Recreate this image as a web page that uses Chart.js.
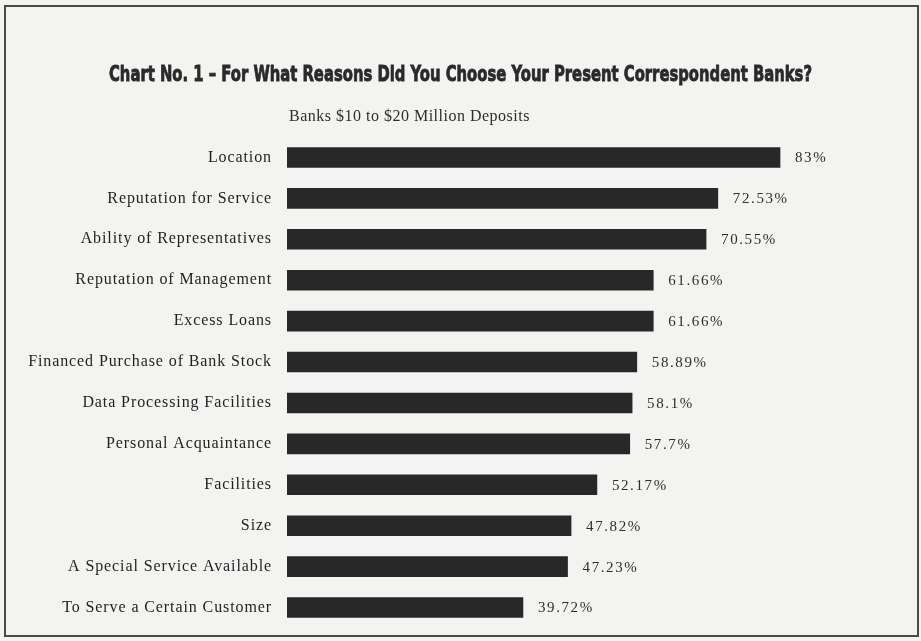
<!DOCTYPE html>
<html>
<head>
<meta charset="utf-8">
<script src="https://cdn.jsdelivr.net/npm/chart.js@4/dist/chart.umd.min.js"></script>
<style>
  html, body { margin: 0; padding: 0; background: #f3f3f1; }
  #wrap { position: relative; width: 921px; height: 641px; }
  #frame {
    position: absolute; left: 4px; top: 5px; width: 911px; height: 628px;
    border: 2px solid #4a4a4a; pointer-events: none;
  }
  canvas { position: absolute; left: 0; top: 0; }
</style>
</head>
<body>
<div id="wrap">
  <canvas id="reasonsChart" width="921" height="641"></canvas>
  <div id="frame"></div>
</div>
<script>
// Survey answers, percent of banks
const reasons = [
    'Location',
    'Reputation for Service',
    'Ability of Representatives',
    'Reputation of Management',
    'Excess Loans',
    'Financed Purchase of Bank Stock',
    'Data Processing Facilities',
    'Personal Acquaintance',
    'Facilities',
    'Size',
    'A Special Service Available',
    'To Serve a Certain Customer'
];
const percents = [83, 72.53, 70.55, 61.66, 61.66, 58.89, 58.1, 57.7, 52.17, 47.82, 47.23, 39.72];
const valueLabels = ['83%', '72.53%', '70.55%', '61.66%', '61.66%', '58.89%', '58.1%', '57.7%', '52.17%', '47.82%', '47.23%', '39.72%'];

const chartTitle = 'Chart No. 1 \u2013 For What Reasons Did You Choose Your Present Correspondent Banks?';
const chartSubtitle = 'Banks $10 to $20 Million Deposits';

const serif = '"Liberation Serif", "DejaVu Serif", serif';
const gothic = '"DejaVu Sans", "Liberation Sans", sans-serif';

// headings + percent labels next to each bar
const printedText = {
    id: 'printedText',
    beforeDraw(chart) {
        // tick labels are letter-spaced like the printed page
        chart.ctx.letterSpacing = '0.9px';
    },
    afterDatasetsDraw(chart) {
        const ctx = chart.ctx;
        const area = chart.chartArea;
        ctx.save();
        ctx.textBaseline = 'middle';

        // condensed gothic heading: squeeze a bold face horizontally, thicken a bit
        ctx.fillStyle = '#2a2a2a';
        ctx.strokeStyle = '#2a2a2a';
        ctx.lineWidth = 0.9;
        ctx.letterSpacing = '0px';
        ctx.font = 'bold 22px ' + gothic;
        ctx.textAlign = 'center';
        const squeeze = 703 / ctx.measureText(chartTitle).width;
        ctx.save();
        ctx.translate(chart.width / 2, 75);
        ctx.scale(squeeze, 1);
        ctx.fillText(chartTitle, 0, 0);
        ctx.strokeText(chartTitle, 0, 0);
        ctx.restore();

        ctx.fillStyle = '#2e2e2e';
        ctx.letterSpacing = '0.5px';
        ctx.font = '16px ' + serif;
        ctx.textAlign = 'left';
        ctx.fillText(chartSubtitle, area.left + 2, 117);

        ctx.letterSpacing = '1.6px';
        ctx.font = '15px ' + serif;
        chart.getDatasetMeta(0).data.forEach((bar, i) => {
            ctx.fillText(valueLabels[i], bar.x + 15, bar.y + 1);
        });
        ctx.restore();
    }
};

window.onload = function() {
    const ctx = document.getElementById('reasonsChart').getContext('2d');
    new Chart(ctx, {
        type: 'bar',
        data: {
            labels: reasons,
            datasets: [{
                data: percents,
                backgroundColor: '#282828',
                borderWidth: 0,
                barThickness: 20
            }]
        },
        options: {
            indexAxis: 'y',
            responsive: false,
            animation: false,
            layout: { padding: { top: 137, right: 40, bottom: 13, left: 0 } },
            plugins: {
                legend: { display: false },
                tooltip: { enabled: false }
            },
            scales: {
                x: { min: 0, max: 100, display: false },
                y: {
                    grid: { display: false },
                    border: { display: false },
                    ticks: {
                        color: '#1f1f1f',
                        padding: 7,
                        font: { family: serif, size: 16 }
                    },
                    afterFit: (scale) => {
                        scale.width = 287;
                        // rows fill the whole band between the paddings
                        scale.paddingTop = 0;
                        scale.paddingBottom = 0;
                    }
                }
            }
        },
        plugins: [printedText]
    });
};
</script>
</body>
</html>
